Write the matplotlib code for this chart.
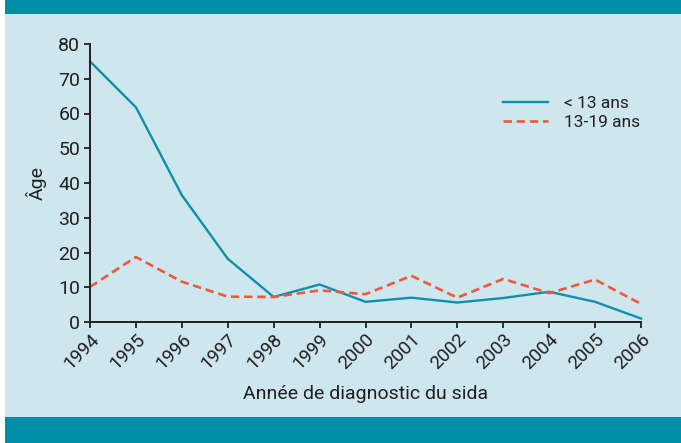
import matplotlib
matplotlib.use("Agg")
import matplotlib.pyplot as plt
from matplotlib.patches import Rectangle

plt.rcParams['font.family'] = ['Roboto', 'DejaVu Sans']

years = list(range(1994, 2007))
under13 = [75.0, 61.8, 36.5, 18.2, 7.2, 10.8, 5.8, 7.0, 5.6, 6.9, 8.7, 5.8, 1.0]
age13_19 = [10.1, 18.7, 11.6, 7.3, 7.2, 9.1, 8.0, 13.3, 7.0, 12.4, 8.3, 12.2, 5.2]
yticks = [0, 10, 20, 30, 40, 50, 60, 70, 80]

TEAL = "#008da8"
BG = "#cee7ee"
BLUE = "#0f90a8"
ORANGE = "#f0583a"
INK = "#231f20"

W, H = 681, 443
fig = plt.figure(figsize=(W / 100, H / 100), dpi=100)
fig.patch.set_facecolor("white")
# light panel and teal bands
fig.patches.append(Rectangle((5 / W, 0), 1, 1, transform=fig.transFigure,
                             facecolor=BG, edgecolor="none", zorder=-3))
fig.patches.append(Rectangle((5 / W, 1 - 14 / H), 1, 14 / H, transform=fig.transFigure,
                             facecolor=TEAL, edgecolor="none", zorder=-2))
fig.patches.append(Rectangle((5 / W, 0), 1, (H - 417) / H, transform=fig.transFigure,
                             facecolor=TEAL, edgecolor="none", zorder=-2))

ax = fig.add_axes([90 / W, (H - 322) / H, (641 - 90) / W, (322 - 44) / H])
ax.set_facecolor("none")
ax.plot(years, under13, color=BLUE, lw=1.7, label="< 13 ans", clip_on=False)
ax.plot(years, age13_19, color=ORANGE, lw=1.9, linestyle=(0, (3.2, 1.8)),
        label="13-19 ans", clip_on=False)

ax.set_xlim(1994, 2006)
ax.set_ylim(0, 80)
ax.set_yticks(yticks)
ax.set_xticks(years)
ax.set_xticklabels([str(y) for y in years], rotation=45, ha="right",
                   rotation_mode="anchor", fontsize=13.5)
ax.tick_params(axis="y", labelsize=14, length=4, width=1.3, direction="out", pad=3)
ax.tick_params(axis="x", length=4, width=1.3, direction="out", pad=2)
for s in ("top", "right"):
    ax.spines[s].set_visible(False)
for s in ("left", "bottom"):
    ax.spines[s].set_linewidth(1.4)
    ax.spines[s].set_color(INK)
ax.tick_params(colors=INK, labelcolor=INK)

ax.set_xlabel("Année de diagnostic du sida", fontsize=14, color=INK, labelpad=9)
ax.set_ylabel("Âge", fontsize=14, color=INK, labelpad=8)

ax.legend(loc="center left", bbox_to_anchor=(503 / W, 1 - 113 / H),
          bbox_transform=fig.transFigure, frameon=False, fontsize=12.5,
          handlelength=2.6, handletextpad=0.9, labelspacing=0.25,
          borderpad=0, borderaxespad=0, labelcolor=INK)

fig.savefig("out.png", dpi=100, facecolor=fig.get_facecolor())
